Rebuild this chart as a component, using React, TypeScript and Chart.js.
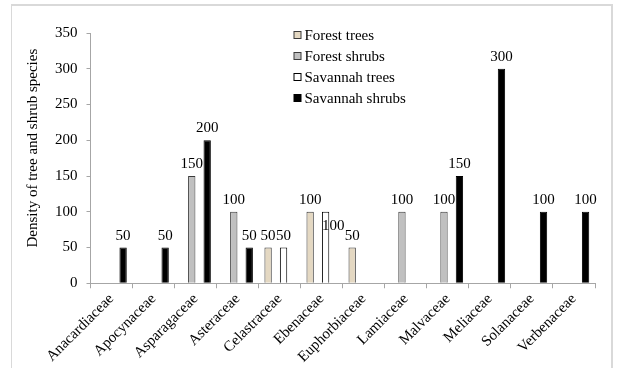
import React, { useEffect, useRef } from "react";
import { Chart, registerables } from "chart.js";

Chart.register(...registerables);

const categories = [
  "Anacardiaceae",
  "Apocynaceae",
  "Asparagaceae",
  "Asteraceae",
  "Celastraceae",
  "Ebenaceae",
  "Euphorbiaceae",
  "Lamiaceae",
  "Malvaceae",
  "Meliaceae",
  "Solanaceae",
  "Verbenaceae",
];

const seriesNames = ["Forest trees", "Forest shrubs", "Savannah trees", "Savannah shrubs"];

const forestTrees = [null, null, null, null, 50, 100, 50, null, null, null, null, null];
const forestShrubs = [null, null, 150, 100, null, null, null, 100, 100, null, null, null];
const savannahTrees = [null, null, null, null, 50, 100, null, null, null, null, null, null];
const savannahShrubs = [50, 50, 200, 50, null, null, null, null, 150, 300, 100, 100];

const yTicks = [0, 50, 100, 150, 200, 250, 300, 350];
const yTitle = "Density of tree and shrub species";

const FONT = "'Liberation Serif', 'Times New Roman', serif";

const fills = ["#e4d8c2", "#c0c0c0", "#ffffff", "#000000"];
const borders = ["#3a3a3a", "#3a3a3a", "#000000", "#000000"];

const labelPlugin = {
  id: "barLabels",
  afterDatasetsDraw(chart: any) {
    const ctx = chart.ctx;
    ctx.save();
    ctx.font = `15px ${FONT}`;
    ctx.fillStyle = "#000";
    chart.data.datasets.forEach((ds: any, di: number) => {
      const meta = chart.getDatasetMeta(di);
      meta.data.forEach((el: any, i: number) => {
        const v = ds.data[i];
        if (v === null || v === undefined) return;
        // the one displaced label in the reference (Ebenaceae, Savannah trees)
        if (di === 2 && i === 5) {
          ctx.textAlign = "left";
          ctx.textBaseline = "alphabetic";
          ctx.fillText(String(v), el.x - el.width / 2, el.y + 18);
        } else {
          ctx.textAlign = "center";
          ctx.textBaseline = "alphabetic";
          ctx.fillText(String(v), el.x, el.y - 8);
        }
      });
    });
    ctx.restore();
  },
};

const titlePlugin = {
  id: "yTitle",
  afterDraw(chart: any) {
    const ctx = chart.ctx;
    const ca = chart.chartArea;
    ctx.save();
    ctx.font = `15px ${FONT}`;
    ctx.fillStyle = "#000";
    ctx.textAlign = "center";
    ctx.textBaseline = "middle";
    ctx.translate(33, (ca.top + ca.bottom) / 2 - 10);
    ctx.rotate(-Math.PI / 2);
    ctx.fillText(yTitle, 0, 0);
    ctx.restore();
  },
};

const legendPlugin = {
  id: "customLegend",
  afterDraw(chart: any) {
    const ctx = chart.ctx;
    const ca = chart.chartArea;
    const x0 = ca.left + 203;
    const y0 = 35;
    ctx.save();
    ctx.font = `15px ${FONT}`;
    ctx.textBaseline = "middle";
    ctx.textAlign = "left";
    seriesNames.forEach((name, i) => {
      const y = y0 + i * 21;
      ctx.fillStyle = fills[i];
      ctx.fillRect(x0 + 0.5, y - 3.5, 7, 7);
      ctx.strokeStyle = borders[i];
      ctx.lineWidth = 1;
      ctx.strokeRect(x0 + 0.5, y - 3.5, 7, 7);
      ctx.fillStyle = "#000";
      ctx.fillText(name, x0 + 11, y + 1);
    });
    ctx.restore();
  },
};

export default function App() {
  const ref = useRef<HTMLCanvasElement | null>(null);

  useEffect(() => {
    if (!ref.current) return;
    const all = [forestTrees, forestShrubs, savannahTrees, savannahShrubs];
    const chart = new Chart(ref.current, {
      type: "bar",
      data: {
        labels: categories,
        datasets: all.map((d, i) => ({
          label: seriesNames[i],
          data: d,
          backgroundColor: fills[i],
          borderColor: borders[i],
          borderWidth: 1,
          categoryPercentage: 0.735,
          barPercentage: 0.95,
        })),
      },
      options: {
        animation: false,
        responsive: false,
        maintainAspectRatio: false,
        layout: { padding: { left: 46, right: 24, top: 33, bottom: 0 } },
        plugins: {
          legend: { display: false },
          tooltip: { enabled: false },
        },
        scales: {
          x: {
            grid: {
              display: true,
              drawOnChartArea: false,
              drawTicks: true,
              tickLength: 5,
              color: "#a6a6a6",
              offset: true,
            },
            border: { color: "#a6a6a6" },
            ticks: {
              maxRotation: 45,
              minRotation: 45,
              autoSkip: false,
              padding: 2,
              color: "#000",
              font: { family: FONT, size: 15 },
            },
          },
          y: {
            min: 0,
            max: 350,
            afterBuildTicks(axis: any) {
              axis.ticks = yTicks.map((v) => ({ value: v }));
            },
            grid: {
              display: true,
              drawOnChartArea: false,
              drawTicks: true,
              tickLength: 4,
              color: "#a6a6a6",
            },
            border: { color: "#a6a6a6" },
            ticks: {
              padding: 9,
              color: "#000",
              font: { family: FONT, size: 15 },
            },
          },
        },
      },
      plugins: [labelPlugin, legendPlugin, titlePlugin],
    });
    return () => chart.destroy();
  }, []);

  return (
    <div style={{ position: "absolute", left: 0, top: 0, width: 619, height: 368, overflow: "hidden", background: "#fff" }}>
      <div
        style={{
          position: "absolute",
          left: 11,
          top: 4,
          width: 602,
          height: 400,
          borderTop: "2px solid #d9d9d9",
          borderLeft: "1px solid #d9d9d9",
          borderRight: "2px solid #d9d9d9",
          boxSizing: "border-box",
        }}
      />
      <canvas ref={ref} width={619} height={368} style={{ position: "absolute", left: 0, top: 0 }} />
    </div>
  );
}
